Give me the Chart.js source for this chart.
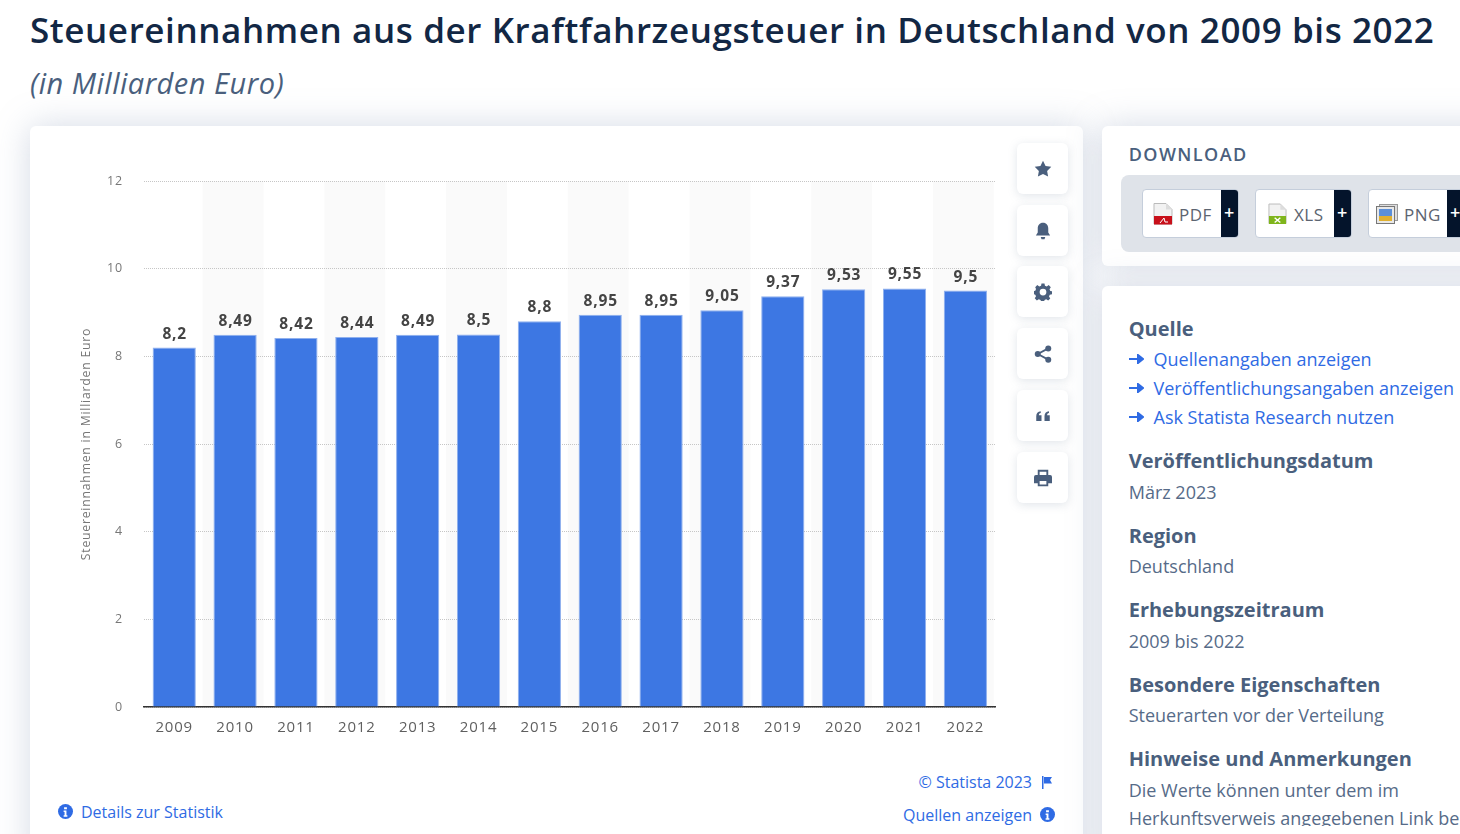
<!DOCTYPE html>
<html lang="de">
<head>
<meta charset="utf-8">
<title>Kraftfahrzeugsteuer</title>
<script src="https://cdn.jsdelivr.net/npm/chart.js@4"></script>
<style>
  * { box-sizing: border-box; }
  html, body { margin: 0; width: 1460px; height: 834px; overflow: hidden; background: #fff; font-family: "Open Sans", sans-serif; }
  .abs { position: absolute; white-space: nowrap; }
  h1 { margin: 0; left: 30px; top: 7px; font-size: 35px; line-height: 46px; font-weight: 600; color: #122744; letter-spacing: 0.595px; }
  .sub { left: 30px; top: 64px; font-size: 29px; line-height: 38px; font-style: italic; color: #4a5f7d; letter-spacing: 0.49px; }
  .card { position: absolute; background: #fff; border-radius: 6px; box-shadow: 0 0 34px rgba(130,148,178,.34); }
  canvas { position: absolute; left: 30px; top: 126px; }
  .tool { position: absolute; left: 1017px; width: 51px; height: 51px; background: #fff; border-radius: 6px; box-shadow: 0 2px 10px rgba(120,135,160,.22); display: flex; align-items: center; justify-content: center; }
  .tool svg { width: 18px; height: 18px; fill: #4a5f7d; }
  .link { color: #2f6be4; font-size: 16px; line-height: 24px; }
  .head { color: #4a5f7d; font-size: 20px; line-height: 26px; font-weight: 700; left: 1128.700px; }
  .text { color: #566b88; font-size: 18px; line-height: 26px; left: 1128.700px; }
  .lnk2 { color: #2f6be4; font-size: 18px; line-height: 26px; left: 1153.500px; }
  .arrow { left: 1129px; width: 15px; height: 10px; }
  .dl { position: absolute; top: 189px; height: 49px; width: 97px; background: #fff; border: 1px solid #c5cedb; border-radius: 4px; overflow: hidden; color: #5c6470; font-size: 17px; line-height: 50px; letter-spacing: .5px; }
  .dl b { position: absolute; right: 0; top: 0; width: 17px; height: 100%; background: #04142b; color: #fff; font-size: 18px; line-height: 44px; text-align: center; font-weight: 600; }
  .dl span { position: absolute; }
  .dl svg { position: absolute; top: 13px; }
  .info { width: 15px; height: 15px; }
</style>
</head>
<body>
<h1 class="abs">Steuereinnahmen aus der Kraftfahrzeugsteuer in Deutschland von 2009 bis 2022</h1>
<div class="abs sub">(in Milliarden Euro)</div>

<div class="card" style="left:30px;top:126px;width:1053px;height:740px"></div>
<div class="card" style="left:1102px;top:126px;width:400px;height:140px"></div>
<div class="card" style="left:1102px;top:286px;width:400px;height:600px"></div>

<canvas id="chart" width="985" height="640" style="width:985px;height:640px"></canvas>

<div class="tool" style="top:143px"><svg viewBox="0 0 24 24"><path d="M12 1l3.400 7 7.600 1.100-5.500 5.400 1.300 7.500L12 18.500 5.200 22l1.300-7.500L1 9.100 8.600 8z"/></svg></div>
<div class="tool" style="top:205px"><svg viewBox="0 0 24 24"><path d="M12 1c4.600 0 7 3.400 7 7.500v5.500l2.500 4h-19l2.500-4V8.500C5 4.400 7.400 1 12 1zM9 20h6l-1 3h-4z"/></svg></div>
<div class="tool" style="top:266px"><svg viewBox="0 0 24 24"><path fill-rule="evenodd" d="M10 1h4l.6 3 2.400 1 2.600-1.700 2.800 2.800L20.700 8.700l1 2.300 2.300.6v4l-3 .4-1 2.400 1.700 2.600-2.800 2.800-2.600-1.700-2.300 1-.6 2.900h-4l-.6-3-2.400-1-2.600 1.700-2.800-2.800 1.700-2.600-1-2.300-3-.6v-4l3-.6 1-2.400L1.600 6.100l2.800-2.800L7 5l2.400-1zM12 8a4.500 4.500 0 1 0 0 9 4.500 4.500 0 0 0 0-9z" transform="translate(0 -.5)"/></svg></div>
<div class="tool" style="top:328px"><svg viewBox="0 0 24 24"><circle cx="19" cy="4.500" r="4"/><circle cx="5" cy="12" r="4"/><circle cx="19" cy="19.500" r="4"/><path d="M5 12L19 4.500M5 12l14 7.500" stroke="#4a5f7d" stroke-width="2.500"/></svg></div>
<div class="tool" style="top:390px"><svg viewBox="0 0 24 24"><path d="M3 12c0-4 2-6 6-6.500V8C7 8.500 6.500 9.500 6.500 11H10v7.500H3zM14 12c0-4 2-6 6-6.500V8c-2 .5-2.500 1.500-2.500 3H21v7.500h-7z"/></svg></div>
<div class="tool" style="top:452px"><svg viewBox="0 0 24 24"><path fill-rule="evenodd" d="M5 1h14v7h2.500A2.500 2.500 0 0 1 24 10.500V19h-5v4H5v-4H0v-8.500A2.500 2.500 0 0 1 2.500 8H5zM7.500 3.500V8h9V3.500zM7.500 16v4.500h9V16z"/></svg></div>

<div class="abs" style="left:1128.700px;top:143px;font-size:18px;line-height:22px;font-weight:600;letter-spacing:1.42px;color:#4a5f7d">DOWNLOAD</div>
<div style="position:absolute;left:1121px;top:175px;width:400px;height:77px;background:#dfe3e9;border-radius:8px"></div>

<div class="dl" style="left:1142px"><svg style="left:10px" width="20" height="22" viewBox="0 0 20 22"><path d="M1 .5h12l6 6V21H1z" fill="#f2f2f2" stroke="#bbb"/><path d="M13 .5l6 6h-6z" fill="#ddd"/><path d="M1 13h18v8.500H1z" fill="#c8101a"/><path d="M7 20l4-5 1 4h3" stroke="#fff" fill="none"/></svg><span style="left:36px">PDF</span><b>+</b></div>
<div class="dl" style="left:1255px"><svg style="left:12px" width="19" height="22" viewBox="0 0 20 22"><path d="M1 .5h12l6 6V21H1z" fill="#f2f2f2" stroke="#bbb"/><path d="M13 .5l6 6h-6z" fill="#ddd"/><path d="M1 13h18v8.500H1z" fill="#7fb51c"/><path d="M7 15l6 5M13 15l-6 5" stroke="#fff" stroke-width="1.500"/></svg><span style="left:38px">XLS</span><b>+</b></div>
<div class="dl" style="left:1368px"><svg style="left:7px;top:14px" width="22" height="20" viewBox="0 0 22 20"><rect x="3.500" y=".5" width="18" height="16" fill="#ddd" stroke="#999"/><rect x=".5" y="2.500" width="18" height="17" fill="#e8e8e8" stroke="#777"/><rect x="3" y="5" width="13" height="7" fill="#5b8fd8"/><rect x="3" y="12" width="13" height="5" fill="#e0b030"/></svg><span style="left:35px">PNG</span><b>+</b></div>

<div class="abs head" style="top:316px">Quelle</div>
<svg class="abs arrow" style="top:354px" viewBox="0 0 15 10"><path d="M0 5h11M9 1l5 4-5 4z" stroke="#2f6be4" stroke-width="2" fill="#2f6be4"/></svg>
<div class="abs lnk2" style="top:346px">Quellenangaben anzeigen</div>
<svg class="abs arrow" style="top:383px" viewBox="0 0 15 10"><path d="M0 5h11M9 1l5 4-5 4z" stroke="#2f6be4" stroke-width="2" fill="#2f6be4"/></svg>
<div class="abs lnk2" style="top:375px">Veröffentlichungsangaben anzeigen</div>
<svg class="abs arrow" style="top:412px" viewBox="0 0 15 10"><path d="M0 5h11M9 1l5 4-5 4z" stroke="#2f6be4" stroke-width="2" fill="#2f6be4"/></svg>
<div class="abs lnk2" style="top:404px">Ask Statista Research nutzen</div>

<div class="abs head" style="top:448px">Veröffentlichungsdatum</div>
<div class="abs text" style="top:479px">März 2023</div>
<div class="abs head" style="top:523px">Region</div>
<div class="abs text" style="top:553px">Deutschland</div>
<div class="abs head" style="top:597px">Erhebungszeitraum</div>
<div class="abs text" style="top:628px">2009 bis 2022</div>
<div class="abs head" style="top:672px">Besondere Eigenschaften</div>
<div class="abs text" style="top:702px">Steuerarten vor der Verteilung</div>
<div class="abs head" style="top:746px">Hinweise und Anmerkungen</div>
<div class="abs text" style="top:777px">Die Werte können unter dem im</div>
<div class="abs text" style="top:805px;height:21px;overflow:hidden">Herkunftsverweis angegebenen Link be</div>

<svg class="abs info" style="left:58px;top:804px" viewBox="0 0 16 16"><circle cx="8" cy="8" r="8" fill="#2f6be4"/><path d="M6.500 3.500h3v2h-3zM6 7h3v5h1v1.500H6V12h1V8.500H6z" fill="#fff"/></svg>
<div class="abs link" style="left:81px;top:800px">Details zur Statistik</div>
<div class="abs link" style="right:428px;top:770px">© Statista 2023</div>
<svg class="abs" style="left:1041px;top:776px;width:12px;height:13px" viewBox="0 0 12 13"><path d="M1 0h1.500v13H1zM3 1h8l-2 3 2 3.500H3z" fill="#2f6be4"/></svg>
<div class="abs link" style="right:428px;top:803px">Quellen anzeigen</div>
<svg class="abs info" style="left:1040px;top:807px" viewBox="0 0 16 16"><circle cx="8" cy="8" r="8" fill="#2f6be4"/><path d="M6.500 3.500h3v2h-3zM6 7h3v5h1v1.500H6V12h1V8.500H6z" fill="#fff"/></svg>

<script>
// data
const years = ['2009', '2010', '2011', '2012', '2013', '2014', '2015', '2016', '2017', '2018', '2019', '2020', '2021', '2022'];
const revenue = [8.2, 8.49, 8.42, 8.44, 8.49, 8.5, 8.8, 8.95, 8.95, 9.05, 9.37, 9.53, 9.55, 9.5];
const yTicks = [0, 2, 4, 6, 8, 10, 12];
const yTitle = 'Steuereinnahmen in Milliarden Euro';

// Grey stripe behind every second year
const stripes = {
  id: 'stripes',
  beforeDraw(chart) {
    const { ctx, chartArea, scales } = chart;
    const step = scales.x.getPixelForValue(1) - scales.x.getPixelForValue(0);
    ctx.save();
    ctx.fillStyle = '#fafafa';
    years.forEach((y, i) => {
      if (i % 2 === 0) return;
      ctx.fillRect(scales.x.getPixelForValue(i) - step / 2 - 2, chartArea.top, step, chartArea.height);
    });
    ctx.restore();
  },
};

// German decimal comma above each bar
const valueLabels = {
  id: 'valueLabels',
  afterDatasetsDraw(chart) {
    const { ctx } = chart;
    ctx.save();
    ctx.font = '700 15.500px "Open Sans"';
    ctx.letterSpacing = '0.8px';
    ctx.fillStyle = '#444';
    ctx.textAlign = 'center';
    ctx.textBaseline = 'alphabetic';
    chart.getDatasetMeta(0).data.forEach((bar, i) => {
      ctx.fillText(String(revenue[i]).replace('.', ','), bar.x + 0.5, bar.y - 9);
    });
    ctx.restore();
  },
};

// Chart.js has no letter spacing option, set it on the context
const spacing = {
  id: 'spacing',
  beforeDraw(chart) { chart.ctx.letterSpacing = '0.8px'; },
};

Chart.defaults.font.family = '"Open Sans"';

new Chart(document.getElementById('chart'), {
  type: 'bar',
  data: {
    labels: years,
    datasets: [{
      data: revenue,
      backgroundColor: '#3d77e3',
      borderColor: '#8fb0ee',
      borderWidth: { top: 1, left: 1, right: 1, bottom: 0 },
      categoryPercentage: 0.71,
      barPercentage: 1,
    }],
  },
  plugins: [spacing, stripes, valueLabels],
  options: {
    responsive: false,
    animation: false,
    layout: { padding: { left: 49, top: 55, right: 19.200, bottom: 0 } },
    plugins: { legend: { display: false }, tooltip: { enabled: false } },
    scales: {
      x: {
        grid: { display: false },
        border: { color: '#333', width: 1.5 },
        ticks: { color: '#5f5f5f', font: { size: 15 }, padding: 4, maxRotation: 0 },
        afterFit(s) { s.height = 59; },
      },
      y: {
        min: 0,
        max: 12,
        afterBuildTicks(s) { s.ticks = yTicks.map(value => ({ value })); },
        grid: { color: '#c6c6c6', tickLength: 0, drawTicks: false },
        border: { display: false, dash: [1, 1] },
        ticks: { color: '#777', font: { size: 12.500 }, padding: 20.800 },
        title: { display: true, text: yTitle, color: '#777', font: { size: 12.200 }, padding: 0 },
        afterFit(s) { s.width = 64.800; },
      },
    },
  },
});
</script>
</body>
</html>
